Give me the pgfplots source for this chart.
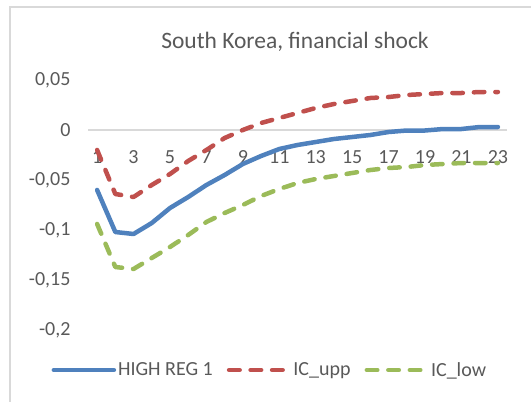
\documentclass[border=0pt]{standalone}
\usepackage{pgfplots}
\pgfplotsset{compat=1.18}
\usepackage{fontspec}
\setmainfont{Carlito}
\definecolor{txt}{HTML}{595959}
\definecolor{frm}{HTML}{D9D9D9}
\definecolor{cblue}{HTML}{4F81BD}
\definecolor{cred}{HTML}{C0504D}
\definecolor{cgreen}{HTML}{9BBB59}
\begin{document}
\begin{tikzpicture}[x=1bp,y=1bp]
\useasboundingbox (0,0) rectangle (531,401);
\draw[frm,line width=1.2bp] (10,-2) -- (10,394) -- (533,394);
\node[txt,font=\fontsize{23.5bp}{26bp}\selectfont] at (295,359) {South Korea, financial shock};
\begin{axis}[
  at={(88bp,71bp)}, anchor=south west,
  scale only axis, width=419bp, height=250bp,
  xmin=0.5, xmax=23.5, ymin=-0.2, ymax=0.05,
  axis x line=middle, axis y line=left,
  x axis line style={draw=frm, line width=1.2bp, -},
  y axis line style={draw=none},
  xtick={1,3,...,23}, ytick={-0.2,-0.15,-0.1,-0.05,0,0.05},
  xticklabels={1,3,5,7,9,11,13,15,17,19,21,23},
  yticklabels={{-0,2},{-0,15},{-0,1},{-0,05},{0},{0,05}},
  /pgf/number format/assume math mode=true,
  major tick length=0,
  tick label style={txt, font=\fontsize{20bp}{22bp}\selectfont},
  xticklabel style={anchor=north, yshift=-17bp},
  yticklabel style={anchor=east, xshift=-14bp},
  legend style={at={(0.434,-0.16)}, anchor=center, draw=none, fill=none,
    legend columns=3, font=\fontsize{20bp}{22bp}\selectfont, text=txt,
    nodes={inner xsep=2bp},
    /tikz/every even column/.style={column sep=12bp}},
  legend image code/.code={\draw[#1] (0bp,0bp) -- (60bp,0bp);},
  every axis plot/.append style={line width=4.5bp, line cap=round, line join=round},
]
\addplot[cblue] coordinates {
(1,-0.060) (2,-0.102) (3,-0.104) (4,-0.093) (5,-0.078) (6,-0.067) (7,-0.055) (8,-0.045)
(9,-0.034) (10,-0.026) (11,-0.019) (12,-0.015) (13,-0.012) (14,-0.009) (15,-0.007) (16,-0.005)
(17,-0.002) (18,-0.0005) (19,-0.0005) (20,0.001) (21,0.001) (22,0.003) (23,0.003)};
\addlegendentry{HIGH REG 1}
\addplot[cred, dash pattern=on 10.5bp off 11bp] coordinates {
(1,-0.020) (2,-0.064) (3,-0.067) (4,-0.055) (5,-0.044) (6,-0.031) (7,-0.020) (8,-0.008)
(9,0.000) (10,0.007) (11,0.012) (12,0.017) (13,0.022) (14,0.026) (15,0.029) (16,0.032)
(17,0.033) (18,0.035) (19,0.036) (20,0.037) (21,0.037) (22,0.038) (23,0.038)};
\addlegendentry{IC\_upp}
\addplot[cgreen, dash pattern=on 10.5bp off 11bp] coordinates {
(1,-0.094) (2,-0.137) (3,-0.139) (4,-0.128) (5,-0.117) (6,-0.105) (7,-0.092) (8,-0.083)
(9,-0.075) (10,-0.066) (11,-0.059) (12,-0.053) (13,-0.049) (14,-0.046) (15,-0.043) (16,-0.040)
(17,-0.038) (18,-0.037) (19,-0.035) (20,-0.034) (21,-0.033) (22,-0.033) (23,-0.033)};
\addlegendentry{IC\_low}
\end{axis}
\end{tikzpicture}
\end{document}
